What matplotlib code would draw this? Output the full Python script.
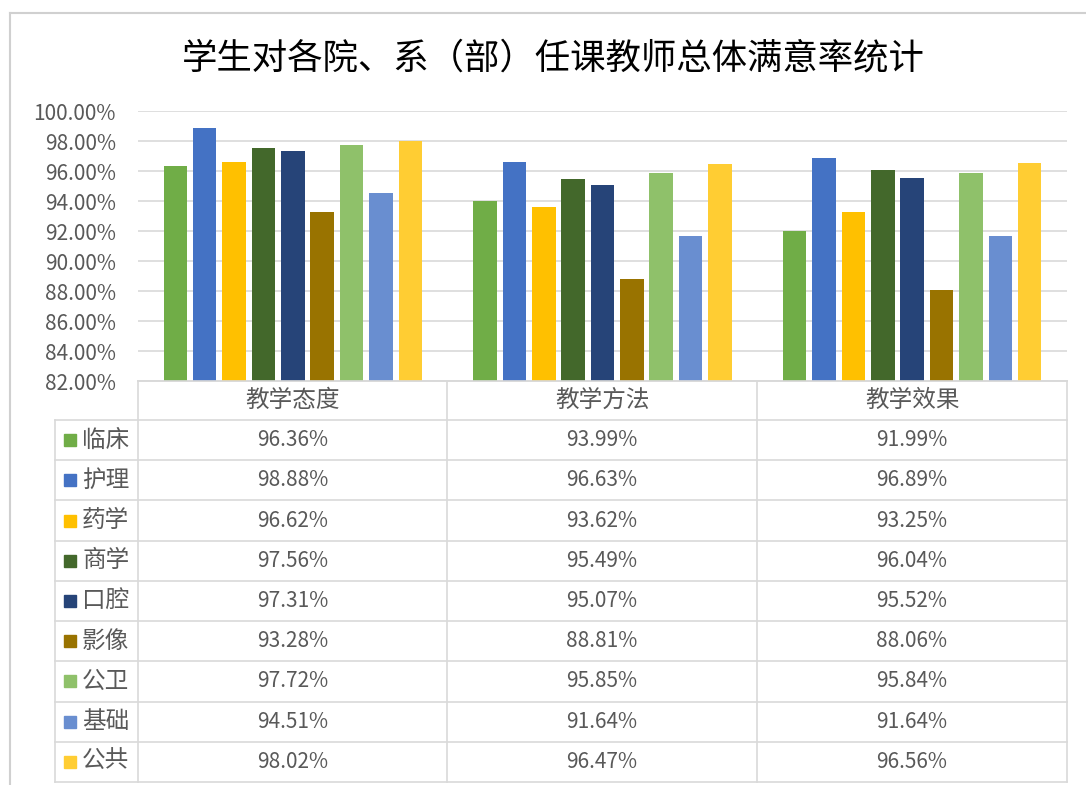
import matplotlib.pyplot as plt
import numpy as np

plt.rcParams['font.family'] = ['Noto Sans CJK SC', 'DejaVu Sans']

# ---- data ----
title = "学生对各院、系（部）任课教师总体满意率统计"
categories = ["教学态度", "教学方法", "教学效果"]
series_names = ["临床", "护理", "药学", "商学", "口腔", "影像", "公卫", "基础", "公共"]
series_values = [
    [96.36, 93.99, 91.99],
    [98.88, 96.63, 96.89],
    [96.62, 93.62, 93.25],
    [97.56, 95.49, 96.04],
    [97.31, 95.07, 95.52],
    [93.28, 88.81, 88.06],
    [97.72, 95.85, 95.84],
    [94.51, 91.64, 91.64],
    [98.02, 96.47, 96.56],
]
colors = ["#70AD47", "#4472C4", "#FFC000", "#43682B", "#264478",
          "#997300", "#8FC16A", "#698ED0", "#FFCD33"]
y_ticks = np.arange(82, 100.1, 2)

W, H = 1086, 785
fig = plt.figure(figsize=(W / 100, H / 100), dpi=100)

TXT = "#595959"
GRID = "#D9D9D9"


def fx(px):
    return px / W


def fy(py):
    return 1 - py / H


# chart border (top and left visible)
fig.add_artist(plt.Line2D([fx(10), fx(1086)], [fy(13), fy(13)], color="#D0D0D0", lw=1.5))
fig.add_artist(plt.Line2D([fx(10), fx(10)], [fy(13), fy(785)], color="#D0D0D0", lw=1.5))

fig.text(fx(553), fy(58), title, ha="center", va="center", fontsize=25.5, color="#000000")

# ---- bar plot area ----
x_left, x_right, y_top, y_bot = 138, 1067, 111, 381
ax = fig.add_axes([fx(x_left), fy(y_bot), fx(x_right - x_left), (y_bot - y_top) / H])
ax.set_xlim(-0.5, len(categories) - 0.5)
ax.set_ylim(82, 100)

n = len(series_names)
slot = 29.4 / 310.0
bar_w = 23.5 / 310.0
x = np.arange(len(categories))
for i, (name, vals, c) in enumerate(zip(series_names, series_values, colors)):
    ax.bar(x + (i - (n - 1) / 2) * slot, vals, width=bar_w, color=c, zorder=3)

ax.set_yticks(y_ticks)
ax.set_yticklabels([f"{v:.2f}%" for v in y_ticks], fontsize=15, color=TXT)
ax.yaxis.grid(True, color=GRID, lw=1.2, zorder=0)
ax.tick_params(axis="y", length=0, pad=16)
ax.set_xticks([])
for s in ["top", "right", "left"]:
    ax.spines[s].set_visible(False)
ax.spines["bottom"].set_color(GRID)
ax.spines["bottom"].set_linewidth(1.2)

# ---- data table below ----
tab = fig.add_axes([0, 0, 1, 1], facecolor="none")
tab.set_xlim(0, W)
tab.set_ylim(H, 0)
tab.axis("off")

col_x = [x_left, 447, 757, x_right]
leg_x = 55
row_top = 420
row_bot = 782
row_h = (row_bot - row_top) / n
lw = 1.2

# header row
tab.plot([x_left, x_right], [y_bot, y_bot], color=GRID, lw=lw)
for cx in col_x:
    tab.plot([cx, cx], [y_bot, row_bot], color=GRID, lw=lw)
tab.plot([leg_x, leg_x], [row_top, row_bot], color=GRID, lw=lw)
for k in range(n + 1):
    yy = row_top + k * row_h
    tab.plot([leg_x, x_right], [yy, yy], color=GRID, lw=lw)

for j, cat in enumerate(categories):
    tab.text((col_x[j] + col_x[j + 1]) / 2, (y_bot + row_top) / 2, cat,
             ha="center", va="center", fontsize=17, color=TXT)

for i, (name, vals, c) in enumerate(zip(series_names, series_values, colors)):
    yc = row_top + (i + 0.5) * row_h
    tab.add_patch(plt.Rectangle((64, yc - 6), 12, 12, color=c))
    tab.text(82, yc, name, ha="left", va="center", fontsize=17, color=TXT)
    for j, v in enumerate(vals):
        tab.text((col_x[j] + col_x[j + 1]) / 2, yc, f"{v:.2f}%",
                 ha="center", va="center", fontsize=15, color=TXT)

fig.savefig("out.png", dpi=100, facecolor="white")
